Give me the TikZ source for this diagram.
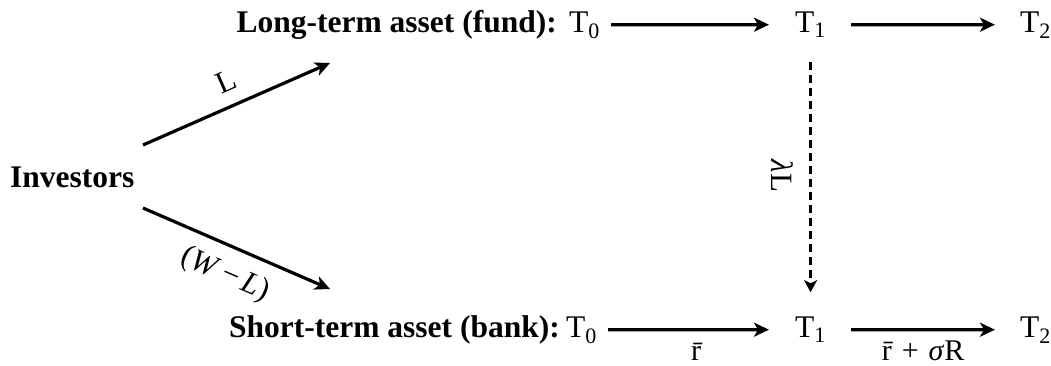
\documentclass[tikz,border=0pt]{standalone}
\usepackage{fontspec}
\setmainfont{Liberation Serif}
\usetikzlibrary{arrows.meta}
\tikzset{
  big/.style={font=\fontsize{31.5}{36}\selectfont, inner sep=0pt},
  lbl/.style={font=\fontsize{31}{36}\selectfont, inner sep=0pt},
  sml/.style={font=\fontsize{30}{34}\selectfont, inner sep=0pt},
  arr/.style={line width=3.2pt, -{Stealth[length=15pt,width=14pt,inset=4pt]}},
  darr/.style={line width=3.2pt, dash pattern=on 8pt off 5pt, -{Stealth[length=12pt,width=13pt,inset=3pt]}}
}
\begin{document}
\begin{tikzpicture}[x=1pt,y=-1pt]
\path[use as bounding box] (0,0) rectangle (1051,365);
% left
\node[big, anchor=base west] (inv) at (10,187) {\bfseries Investors};
% top row
\node[big, anchor=base east] (lt) at (557,32) {\bfseries Long-term asset (fund):};
\node[big, anchor=base west] (a0) at (569,32) {T\textsubscript{0}};
\node[big, anchor=base west] (a1) at (795,32) {T\textsubscript{1}};
\node[big, anchor=base west] (a2) at (1020,32) {T\textsubscript{2}};
% bottom row
\node[big, anchor=base east] (st) at (560,337) {\bfseries Short-term asset (bank):};
\node[big, anchor=base west] (b0) at (566,337) {T\textsubscript{0}};
\node[big, anchor=base west] (b1) at (795,337) {T\textsubscript{1}};
\node[big, anchor=base west] (b2) at (1020,337) {T\textsubscript{2}};
% arrow ends from investors
\coordinate (i1) at (143,145);
\coordinate (f1) at (330,63);
\coordinate (i2) at (143,208);
\coordinate (f2) at (330,289);
\draw[arr] (i1) -- node[lbl, midway, sloped, above=13pt] (lL) {L} (f1);
\draw[arr] (i2) -- node[lbl, midway, sloped, below=13pt] (lWL) {(\textit{W}\,−\,\textit{L})} (f2);
% horizontal arrows
\draw[arr, shorten <=11pt, shorten >=26pt] (a0) -- (a1);
\draw[arr, shorten <=25pt, shorten >=25pt] (a1) -- (a2);
\draw[arr, shorten <=11pt, shorten >=26pt] (b0) -- (b1) node[sml, midway, anchor=base, yshift=-31pt] (r1) {\={r}};
\draw[arr, shorten <=25pt, shorten >=25pt] (b1) -- (b2) node[sml, midway, anchor=base, yshift=-31pt] (r2) {\={r}\,\,+\,\,\textit{σ}R};
% dashed arrow
\draw[darr, shorten <=24pt, shorten >=24pt] (a1) -- (b1);
\node[lbl, rotate=-90] (lam) at (782,176) {\textit{λ}L};
\end{tikzpicture}
\end{document}
